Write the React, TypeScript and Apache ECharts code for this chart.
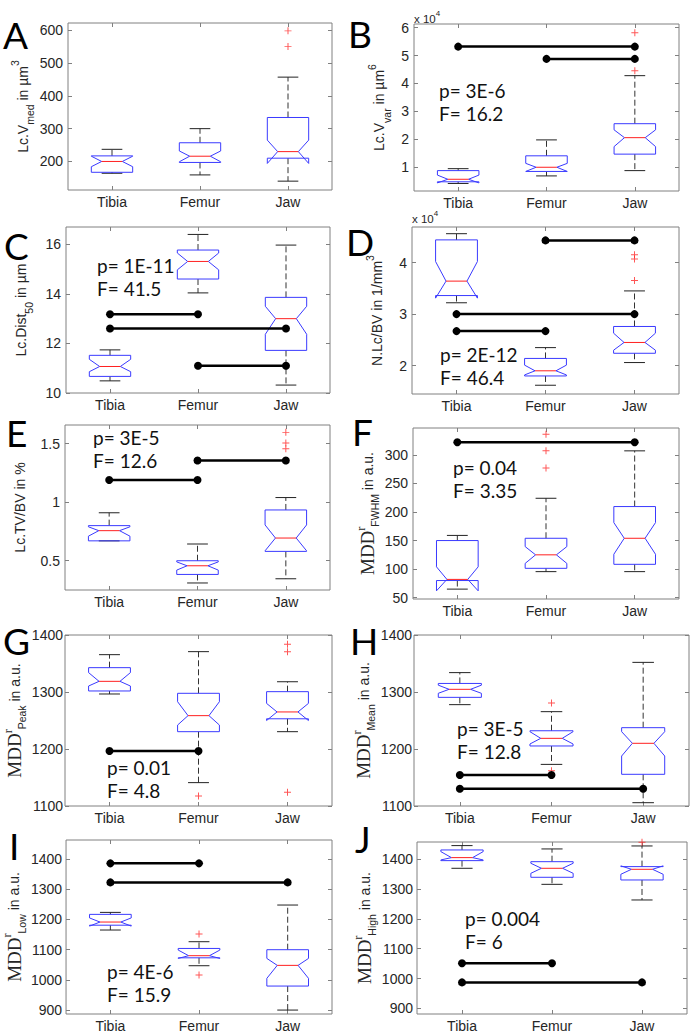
import React, { useEffect, useRef } from 'react';
import * as echarts from 'echarts';

const categories = ['Tibia', 'Femur', 'Jaw'];

// each box: [whiskerLow, q1, notchLow, median, notchHigh, q3, whiskerHigh]
const boxesA = [[164, 167, 184, 200, 216, 217, 237], [159, 197, 199, 216, 232, 257, 300], [140, 210, 194, 230, 265, 334, 457]];
const boxesB = [[0.42, 0.48, 0.44, 0.57, 0.72, 0.88, 0.95], [0.69, 0.85, 0.85, 1.0, 1.14, 1.41, 1.98], [0.88, 1.47, 1.74, 2.06, 2.34, 2.56, 4.28]];
const boxesC = [[10.49, 10.67, 10.86, 11.07, 11.36, 11.52, 11.74], [14.04, 14.6, 14.97, 15.31, 15.65, 15.77, 16.4], [10.32, 11.72, 12.37, 13.0, 13.5, 13.86, 15.97]];
const boxesD = [[3.22, 3.36, 3.31, 3.64, 4.02, 4.44, 4.56], [1.62, 1.8, 1.82, 1.9, 2.01, 2.14, 2.35], [2.06, 2.24, 2.3, 2.45, 2.63, 2.76, 3.45]];
const boxesE = [[0.67, 0.67, 0.71, 0.757, 0.79, 0.8, 0.91], [0.31, 0.383, 0.42, 0.457, 0.49, 0.5, 0.643], [0.346, 0.58, 0.585, 0.694, 0.806, 0.934, 1.04]];
const boxesF = [[65, 80, 62, 82, 104, 150, 159], [95.6, 101.4, 110, 125, 139.4, 154, 224], [95.6, 108.4, 126, 154, 181.4, 209.5, 307]];
const boxesG = [[1296.5, 1301.8, 1310.5, 1318.7, 1334, 1342.7, 1365.5], [1141, 1230.4, 1242, 1258.5, 1283, 1297.7, 1370.8], [1230.4, 1253, 1250, 1265, 1280, 1300.6, 1318]];
const boxesH = [[1277.8, 1290.6, 1297.7, 1304.7, 1312, 1315, 1334], [1173, 1205.3, 1208.8, 1218.7, 1230.4, 1232, 1265.5], [1105.8, 1155.6, 1187.7, 1210, 1230.4, 1237.4, 1352]];
const boxesI = [[1165, 1181, 1178, 1191.4, 1205, 1216.8, 1223.4], [1046.8, 1073, 1071, 1080, 1098.7, 1104, 1126.3], [900, 979.5, 1005, 1048, 1071, 1099.8, 1247.7]];
const boxesJ = [[1369.8, 1395.5, 1397.8, 1405.6, 1425.7, 1431.3, 1445.9], [1316, 1339.6, 1353, 1369.8, 1386.6, 1392, 1434.7], [1263.5, 1330.6, 1349.7, 1366.4, 1378, 1375.4, 1444.7]];

// outliers: [categoryIndex, value]
const outliersA = [[2, 598], [2, 550]];
const outliersB = [[2, 4.46], [2, 5.82]];
const outliersC: number[][] = [];
const outliersD = [[2, 4.15], [2, 4.07], [2, 3.65]];
const outliersE = [[2, 1.597], [2, 1.506], [2, 1.457]];
const outliersF = [[1, 336], [1, 307], [1, 277]];
const outliersG = [[1, 1117.5], [2, 1383.6], [2, 1370.8], [2, 1124]];
const outliersH = [[1, 1280.7], [1, 1162]];
const outliersI = [[1, 1151.7], [1, 1016]];
const outliersJ = [[2, 1457]];

// significance bars: [fromIndex, toIndex, value]
const sigA: number[][] = [];
const sigB = [[0, 2, 5.32], [1, 2, 4.88]];
const sigC = [[0, 1, 13.18], [0, 2, 12.6], [1, 2, 11.1]];
const sigD = [[1, 2, 4.43], [0, 2, 3.0], [0, 1, 2.67]];
const sigE = [[1, 2, 1.357], [0, 1, 1.19]];
const sigF = [[0, 2, 322]];
const sigG = [[0, 1, 1196.5]];
const sigH = [[0, 1, 1154.4], [0, 2, 1130.4]];
const sigI = [[0, 1, 1385.7], [0, 2, 1322.7]];
const sigJ = [[0, 1, 1051], [0, 2, 987]];

// axis ranges and tick labels
const rangeA = [113, 622]; const ticksA = [200, 300, 400, 500, 600];
const rangeB = [0.15, 6.13]; const ticksB = [1, 2, 3, 4, 5, 6];
const rangeC = [10, 16.7]; const ticksC = [10, 12, 14, 16];
const rangeD = [1.45, 4.69]; const ticksD = [2, 3, 4];
const rangeE = [0.25, 1.66]; const ticksE = [0.5, 1, 1.5];
const rangeF = [47.7, 347]; const ticksF = [50, 100, 150, 200, 250, 300];
const rangeG = [1100, 1400]; const ticksG = [1100, 1200, 1300, 1400];
const rangeH = [1100, 1400]; const ticksH = [1100, 1200, 1300, 1400];
const rangeI = [887, 1463]; const ticksI = [900, 1000, 1100, 1200, 1300, 1400];
const rangeJ = [881, 1458]; const ticksJ = [900, 1000, 1100, 1200, 1300, 1400];

// statistics text
const statsA: string[] = [];
const statsB = ['p= 3E-6', 'F= 16.2'];
const statsC = ['p= 1E-11', 'F= 41.5'];
const statsD = ['p= 2E-12', 'F= 46.4'];
const statsE = ['p= 3E-5', 'F= 12.6'];
const statsF = ['p= 0.04', 'F= 3.35'];
const statsG = ['p= 0.01', 'F= 4.8'];
const statsH = ['p= 3E-5', 'F= 12.8'];
const statsI = ['p= 4E-6', 'F= 15.9'];
const statsJ = ['p= 0.004', 'F= 6'];

const letters = ['A', 'B', 'C', 'D', 'E', 'F', 'G', 'H', 'I', 'J'];

const yLabels = [
  '{t|Lc.V}{sb|med}{t| in µm}{sp|3}',
  '{t|Lc.V}{sb|var}{t| in µm}{sp|6}',
  '{t|Lc.Dist}{sb|50}{t| in µm}',
  '{t|N.Lc/BV in 1/mm}{sp|3}',
  '{t|Lc.TV/BV in %}',
  '{m|MDD}{mr|r}{sb|FWHM}{t| in a.u.}',
  '{m|MDD}{mr|r}{sb|Peak}{t| in a.u.}',
  '{m|MDD}{mr|r}{sb|Mean}{t| in a.u.}',
  '{m|MDD}{mr|r}{sb|Low}{t| in a.u.}',
  '{m|MDD}{mr|r}{sb|High}{t| in a.u.}',
];

const panelData = [
  { boxes: boxesA, out: outliersA, sig: sigA, range: rangeA, ticks: ticksA, stats: statsA },
  { boxes: boxesB, out: outliersB, sig: sigB, range: rangeB, ticks: ticksB, stats: statsB },
  { boxes: boxesC, out: outliersC, sig: sigC, range: rangeC, ticks: ticksC, stats: statsC },
  { boxes: boxesD, out: outliersD, sig: sigD, range: rangeD, ticks: ticksD, stats: statsD },
  { boxes: boxesE, out: outliersE, sig: sigE, range: rangeE, ticks: ticksE, stats: statsE },
  { boxes: boxesF, out: outliersF, sig: sigF, range: rangeF, ticks: ticksF, stats: statsF },
  { boxes: boxesG, out: outliersG, sig: sigG, range: rangeG, ticks: ticksG, stats: statsG },
  { boxes: boxesH, out: outliersH, sig: sigH, range: rangeH, ticks: ticksH, stats: statsH },
  { boxes: boxesI, out: outliersI, sig: sigI, range: rangeI, ticks: ticksI, stats: statsI },
  { boxes: boxesJ, out: outliersJ, sig: sigJ, range: rangeJ, ticks: ticksJ, stats: statsJ },
];

// layout (pixels)
const layout = [
  { l: 68, t: 23, w: 264, h: 167, letter: [3, 34], stats: [0, 0], gap: 32, margin: 5 },
  { l: 414, t: 24, w: 265, h: 167, letter: [348, 33], stats: [439, 90], gap: 22, margin: 5 },
  { l: 66, t: 227, w: 264, h: 166, letter: [4, 245], stats: [97, 265], gap: 32, margin: 5 },
  { l: 412, t: 227, w: 267, h: 167, letter: [346, 241], stats: [440, 354], gap: 22, margin: 5 },
  { l: 65, t: 425, w: 265, h: 165, letter: [6, 432], stats: [93, 437], gap: 32, margin: 5 },
  { l: 413, t: 428, w: 266, h: 171, letter: [352, 431], stats: [453, 467], gap: 31, margin: 5 },
  { l: 65, t: 635, w: 267, h: 171, letter: [3, 640], stats: [107, 767], gap: 37, margin: 2 },
  { l: 414, t: 635, w: 275, h: 171, letter: [350, 640], stats: [457, 728], gap: 37, margin: 2 },
  { l: 65, t: 840, w: 267, h: 174, letter: [9, 845], stats: [107, 971], gap: 31, margin: 4 },
  { l: 417, t: 842, w: 270, h: 172, letter: [355, 838], stats: [465, 918], gap: 31, margin: 4 },
];

const FRAME = '#808080';
const TXT = '#262626';
const SANS = 'Liberation Sans, Arial, sans-serif';

const richStyles = {
  t: { fontSize: 14, fontFamily: SANS, color: TXT, lineHeight: 26, verticalAlign: 'middle' },
  sb: { fontSize: 10.5, fontFamily: SANS, color: TXT, lineHeight: 11, verticalAlign: 'bottom' },
  sp: { fontSize: 10.5, fontFamily: SANS, color: TXT, lineHeight: 11, verticalAlign: 'top' },
  m: { fontSize: 19, fontFamily: 'Liberation Serif, serif', color: TXT, lineHeight: 26, verticalAlign: 'middle' },
  mr: { fontSize: 12, fontFamily: 'Liberation Serif, serif', color: TXT, lineHeight: 12, verticalAlign: 'top' },
};

function renderBox(params: any, api: any) {
  const xi = api.value(0);
  const vals = [1, 2, 3, 4, 5, 6, 7].map((i) => api.value(i));
  const ys = vals.map((v) => api.coord([xi, v])[1]);
  const [lo, q1, nlo, med, nhi, q3, hi] = ys;
  const cx = api.coord([xi, vals[3]])[0];
  const band = api.size([1, 0])[0];
  const hw = band * 0.235;
  const nw = hw * 0.5;
  const cw = hw * 0.5;
  const wh = { stroke: '#333', lineWidth: 1, lineDash: [6, 3], fill: null };
  const cap = { stroke: '#222', lineWidth: 1, fill: null };
  return {
    type: 'group',
    children: [
      { type: 'line', shape: { x1: cx, y1: q3, x2: cx, y2: hi }, style: wh },
      { type: 'line', shape: { x1: cx, y1: q1, x2: cx, y2: lo }, style: wh },
      { type: 'line', shape: { x1: cx - cw, y1: hi, x2: cx + cw, y2: hi }, style: cap },
      { type: 'line', shape: { x1: cx - cw, y1: lo, x2: cx + cw, y2: lo }, style: cap },
      {
        type: 'polygon',
        shape: {
          points: [
            [cx - hw, q3], [cx + hw, q3], [cx + hw, nhi], [cx + nw, med], [cx + hw, nlo], [cx + hw, q1],
            [cx - hw, q1], [cx - hw, nlo], [cx - nw, med], [cx - hw, nhi],
          ],
        },
        style: { fill: 'none', stroke: '#3a3aff', lineWidth: 1 },
      },
      { type: 'line', shape: { x1: cx - nw, y1: med, x2: cx + nw, y2: med }, style: { stroke: '#ff2020', lineWidth: 1 } },
    ],
  };
}

const PLUS = 'path://M4.3,0H5.7V4.3H10V5.7H5.7V10H4.3V5.7H0V4.3H4.3Z';

function buildOption() {
  const grid: any[] = [];
  const xAxis: any[] = [];
  const yAxis: any[] = [];
  const series: any[] = [];
  const graphic: any[] = [];

  panelData.forEach((p, i) => {
    const L = layout[i];
    grid.push({ left: L.l, top: L.t, width: L.w, height: L.h, show: true, borderColor: FRAME, borderWidth: 1, backgroundColor: 'transparent' });
    const xBase = {
      type: 'category', data: categories, gridIndex: i, boundaryGap: true,
      axisLine: { show: false },
      axisTick: { show: true, inside: true, length: 4, alignWithLabel: true, lineStyle: { color: FRAME } },
      splitLine: { show: false },
    };
    xAxis.push({ ...xBase, position: 'bottom', axisLabel: { fontSize: 14, fontFamily: SANS, color: TXT, margin: 5 } });
    xAxis.push({ ...xBase, position: 'top', axisLabel: { show: false } });
    const yBase = {
      type: 'value', gridIndex: i, min: p.range[0], max: p.range[1],
      axisLine: { show: false }, splitLine: { show: false },
      axisTick: { show: true, inside: true, length: 4, customValues: p.ticks, lineStyle: { color: FRAME } },
    };
    yAxis.push({
      ...yBase, position: 'left',
      axisLabel: {
        fontSize: 14, fontFamily: SANS, color: TXT, margin: L.margin, customValues: p.ticks,
        formatter: (v: number) => String(v),
      },
      name: yLabels[i], nameLocation: 'middle', nameRotate: 90, nameGap: L.gap,
      nameTextStyle: { rich: richStyles },
    });
    yAxis.push({ ...yBase, position: 'right', axisLabel: { show: false } });

    series.push({
      type: 'custom', xAxisIndex: 2 * i, yAxisIndex: 2 * i,
      renderItem: renderBox,
      encode: { x: 0, y: [1, 2, 3, 4, 5, 6, 7] },
      data: p.boxes.map((b, k) => [k, ...b]),
      silent: true,
    });
    if (p.out.length) {
      series.push({
        type: 'scatter', xAxisIndex: 2 * i, yAxisIndex: 2 * i,
        symbol: PLUS, symbolSize: 7, itemStyle: { color: '#ff2a2a' },
        data: p.out, silent: true,
      });
    }
    p.sig.forEach((s) => {
      series.push({
        type: 'line', xAxisIndex: 2 * i, yAxisIndex: 2 * i,
        data: [[s[0], s[2]], [s[1], s[2]]],
        symbol: 'circle', symbolSize: 8, showSymbol: true,
        lineStyle: { color: '#000', width: 2.5 }, itemStyle: { color: '#000' },
        silent: true,
      });
    });

    graphic.push({
      type: 'text', x: L.letter[0], y: L.letter[1],
      style: { text: letters[i], fontSize: 37, fontFamily: 'Lato, sans-serif', fill: '#000', align: 'left', verticalAlign: 'middle' },
    });
    p.stats.forEach((s, k) => {
      graphic.push({
        type: 'text', x: L.stats[0], y: L.stats[1] + k * 23,
        style: { text: s, fontSize: 19, fontFamily: 'Lato, sans-serif', fill: '#111', align: 'left', verticalAlign: 'middle' },
      });
    });
  });

  // exponent annotations (x 10^4)
  [[414, 17], [412, 217]].forEach((pos) => {
    graphic.push({
      type: 'text', x: pos[0], y: pos[1],
      style: {
        text: '{a|x 10}{b|4}', verticalAlign: 'middle', align: 'left',
        rich: {
          a: { fontSize: 11.5, fontFamily: SANS, fill: TXT, color: TXT, lineHeight: 16, verticalAlign: 'bottom' },
          b: { fontSize: 8, fontFamily: SANS, fill: TXT, color: TXT, lineHeight: 8, verticalAlign: 'top' },
        },
      },
    });
  });

  return { animation: false, backgroundColor: '#fff', grid, xAxis, yAxis, series, graphic };
}

export default function App() {
  const ref = useRef<HTMLDivElement>(null);
  useEffect(() => {
    if (!ref.current) return;
    const chart = echarts.init(ref.current, undefined, { renderer: 'svg' });
    chart.setOption(buildOption() as any);
    return () => chart.dispose();
  }, []);
  return <div ref={ref} style={{ position: 'absolute', left: 0, top: 0, width: 692, height: 1035 }} />;
}
